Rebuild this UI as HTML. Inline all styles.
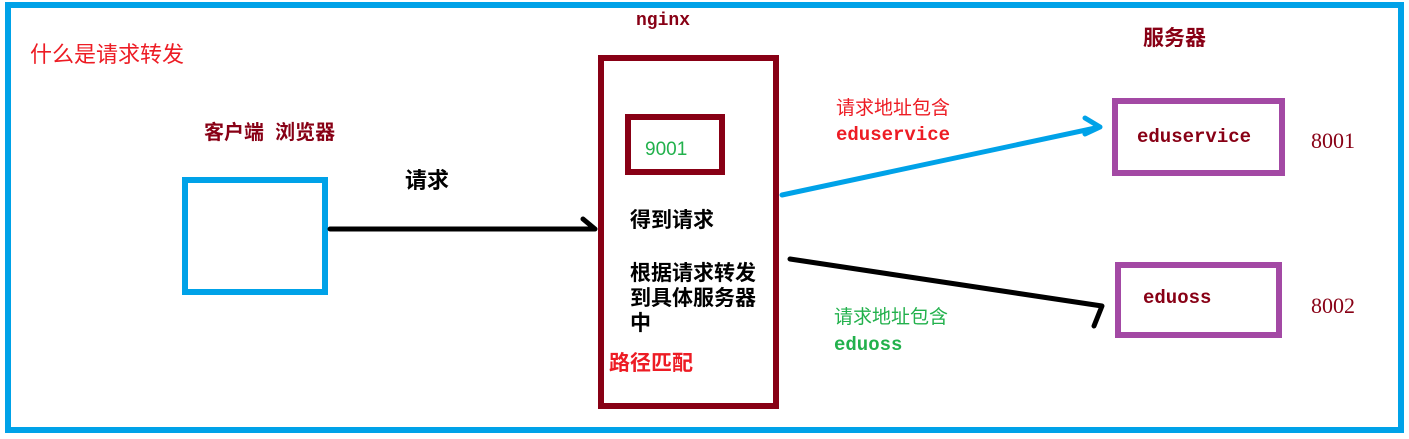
<!DOCTYPE html>
<html><head><meta charset="utf-8"><style>
html,body{margin:0;padding:0;background:#fff;width:1409px;height:439px;overflow:hidden}
svg text{font-family:"Liberation Sans","Noto Sans CJK SC",sans-serif}
.m{font-family:"Liberation Mono","Noto Sans CJK SC",monospace !important;font-weight:bold}
.s{font-family:"Liberation Serif",serif !important}
</style></head><body>
<svg width="1409" height="439" xmlns="http://www.w3.org/2000/svg">
<rect x="8" y="5" width="1393" height="425" fill="none" stroke="#00a2e8" stroke-width="6"/>
<rect x="185" y="180" width="140" height="112" fill="none" stroke="#00a2e8" stroke-width="6"/>
<rect x="601" y="58" width="175" height="348" fill="none" stroke="#880015" stroke-width="6"/>
<rect x="628" y="117" width="94" height="55" fill="none" stroke="#880015" stroke-width="6"/>
<rect x="1115" y="101" width="167" height="72" fill="none" stroke="#a349a4" stroke-width="6"/>
<rect x="1118" y="265" width="161" height="70" fill="none" stroke="#a349a4" stroke-width="6"/>
<g fill="none" stroke-linecap="round" stroke-linejoin="round">
<path d="M330 229 L595 229 M583 219 L595 229" stroke="#000" stroke-width="5"/>
<path d="M782 195 L1100 127 M1085 118 L1100 127 L1085 134" stroke="#00a2e8" stroke-width="5"/>
<path d="M790 259 L1102 306 L1094 326" stroke="#000" stroke-width="5"/>
</g>
<text x="30" y="62" font-size="22" fill="#ed1c24">什么是请求转发</text>
<text x="204" y="139" font-size="20" font-weight="bold" fill="#880015">客户端&#160;&#160;浏览器</text>
<text x="405" y="188" font-size="22" font-weight="bold" fill="#000">请求</text>
<text x="636" y="25" font-size="18" class="m" fill="#880015">nginx</text>
<text x="645" y="155" font-size="19" fill="#22b14c">9001</text>
<text x="630" y="227" font-size="21" font-weight="bold" fill="#000">得到请求</text>
<text x="630" y="280" font-size="21" font-weight="bold" fill="#000">根据请求转发</text>
<text x="630" y="305" font-size="21" font-weight="bold" fill="#000">到具体服务器</text>
<text x="630" y="330" font-size="21" font-weight="bold" fill="#000">中</text>
<text x="609" y="370" font-size="21" font-weight="bold" fill="#ed1c24">路径匹配</text>
<text x="1143" y="45" font-size="21" font-weight="bold" fill="#880015">服务器</text>
<text x="836" y="114" font-size="19" fill="#ed1c24">请求地址包含</text>
<text x="836" y="140" font-size="19" class="m" fill="#ed1c24">eduservice</text>
<text x="1137" y="142" font-size="19" class="m" fill="#880015">eduservice</text>
<text x="1311" y="148" font-size="22" class="s" fill="#880015">8001</text>
<text x="1143" y="303" font-size="19" class="m" fill="#880015">eduoss</text>
<text x="1311" y="313" font-size="22" class="s" fill="#880015">8002</text>
<text x="834" y="323" font-size="19" fill="#22b14c">请求地址包含</text>
<text x="834" y="350" font-size="19" class="m" fill="#22b14c">eduoss</text>
</svg>
</body></html>
